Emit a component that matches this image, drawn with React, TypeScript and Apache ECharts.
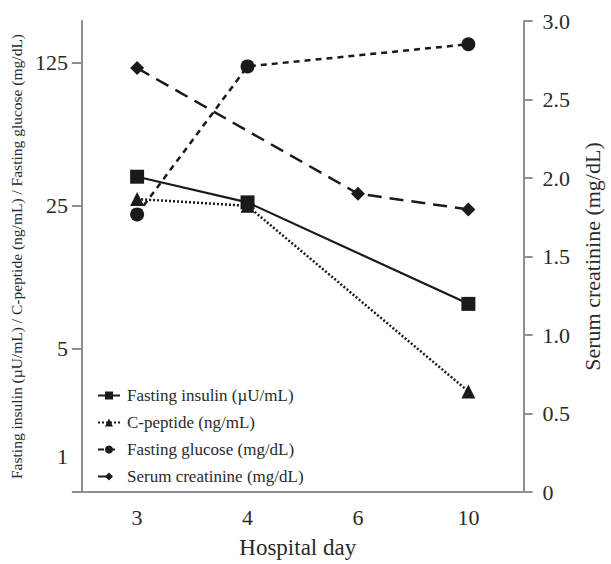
import React, { useEffect, useRef } from "react";
import * as echarts from "echarts";

const days = ["3", "4", "6", "10"];
const insulin = [34.7, 26, null, 8.3];
const cPeptide = [27, 25, null, 3.1];
const glucose = [22.7, 120, null, 154];
const creatinine = [2.7, null, 1.9, 1.8];
const leftTicks = [1, 5, 25, 125];

const FONT = "Liberation Serif";
const INK = "#1a1a1a";
const AXIS = "#8f8f8f";
const LABEL = "#2a2a2a";

export default function App() {
  const ref = useRef<HTMLDivElement>(null);
  useEffect(() => {
    if (!ref.current) return;
    const chart = echarts.init(ref.current, undefined, { renderer: "svg" });
    const mk = (name: string, data: any[], symbol: string, lineType: any, width: number, yAxisIndex: number, z: number) => ({
      name,
      type: "line",
      data,
      yAxisIndex,
      symbol,
      symbolSize: 14,
      connectNulls: true,
      z,
      itemStyle: { color: INK },
      lineStyle: { color: INK, width, type: lineType },
    });
    chart.setOption({
      animation: false,
      grid: { left: 77.5, right: 75, top: 21, bottom: 68 },
      legend: {
        orient: "vertical",
        left: 92,
        top: 382,
        itemWidth: 22,
        itemHeight: 10,
        itemGap: 10,
        textStyle: { fontFamily: FONT, fontSize: 17, color: LABEL, padding: [0, 0, 0, 2] },
        data: [
          "Fasting insulin (µU/mL)",
          "C-peptide (ng/mL)",
          "Fasting glucose (mg/dL)",
          "Serum creatinine (mg/dL)",
        ],
      },
      xAxis: {
        type: "category",
        data: days,
        boundaryGap: true,
        name: "Hospital day",
        nameLocation: "middle",
        nameGap: 44,
        nameTextStyle: { fontFamily: FONT, fontSize: 23, color: LABEL, padding: [0, 10, 0, 0] },
        axisLine: { lineStyle: { color: AXIS, width: 2 } },
        axisTick: { length: 9, alignWithLabel: false, lineStyle: { color: AXIS, width: 2 } },
        axisLabel: { fontFamily: FONT, fontSize: 22, color: LABEL, margin: 14 },
      },
      yAxis: [
        {
          type: "log",
          logBase: 5,
          min: 1,
          max: 200,
          position: "left",
          name: "Fasting insulin (µU/mL) / C-peptide (ng/mL) / Fasting glucose (mg/dL)",
          nameLocation: "middle",
          nameRotate: 90,
          nameGap: 46,
          nameTextStyle: { fontFamily: FONT, fontSize: 15.5, color: LABEL },
          axisLine: { show: true, lineStyle: { color: AXIS, width: 2 } },
          axisTick: { show: true, length: 10, customValues: leftTicks, lineStyle: { color: AXIS, width: 2 } },
          splitLine: { show: false },
          minorTick: { show: false },
          axisLabel: {
            customValues: leftTicks,
            fontFamily: FONT,
            fontSize: 22,
            color: LABEL,
            margin: 14,
            formatter: (v: number) => (Math.abs(v - 1) < 1e-6 ? "{one|1}" : String(Math.round(v))),
            rich: { one: { fontFamily: FONT, fontSize: 22, color: LABEL, padding: [0, 0, 72, 0] } },
          },
        },
        {
          type: "value",
          min: 0,
          max: 3,
          interval: 0.5,
          position: "right",
          name: "Serum creatinine (mg/dL)",
          nameLocation: "middle",
          nameRotate: 90,
          nameGap: 54,
          nameTextStyle: { fontFamily: FONT, fontSize: 22, color: LABEL },
          axisLine: { show: true, lineStyle: { color: AXIS, width: 2 } },
          axisTick: { show: true, length: 9, lineStyle: { color: AXIS, width: 2 } },
          splitLine: { show: false },
          axisLabel: {
            fontFamily: FONT,
            fontSize: 22,
            color: LABEL,
            margin: 19,
            formatter: (v: number) => (v === 0 ? "0" : v.toFixed(1)),
          },
        },
      ],
      series: [
        mk("Fasting insulin (µU/mL)", insulin, "rect", "solid", 2.2, 0, 4),
        mk("C-peptide (ng/mL)", cPeptide, "triangle", [2, 2], 2.5, 0, 3),
        mk("Fasting glucose (mg/dL)", glucose, "circle", [6, 5], 2.5, 0, 2),
        mk("Serum creatinine (mg/dL)", creatinine, "diamond", [14, 8], 2.5, 1, 2),
      ],
    });
    return () => chart.dispose();
  }, []);
  return <div ref={ref} style={{ position: "absolute", left: 0, top: 0, width: 611, height: 564 }} />;
}
